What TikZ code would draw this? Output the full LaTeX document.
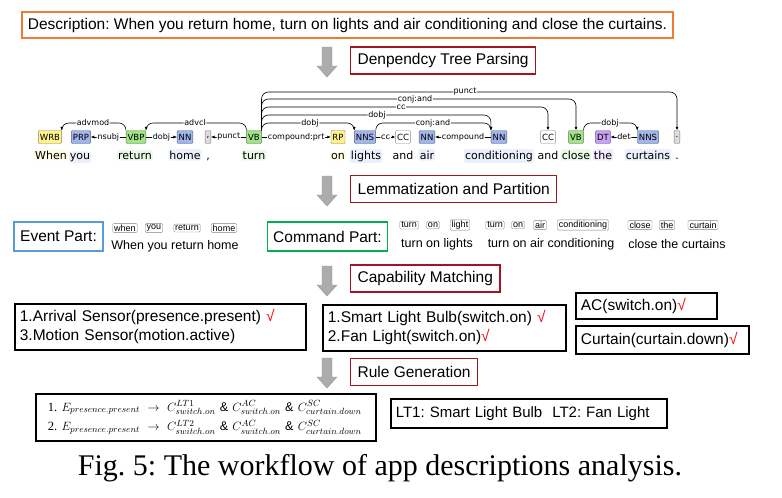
\documentclass[tikz,border=0pt]{standalone}
\usepackage{fontspec}
\setmainfont{Liberation Sans}
\newfontfamily\depfont{DejaVu Sans}
\newfontfamily\capfont{Liberation Serif}
\usetikzlibrary{arrows.meta}
\definecolor{descorange}{RGB}{237,125,49}
\definecolor{stagered}{RGB}{165,20,30}
\definecolor{eventblue}{RGB}{91,155,213}
\definecolor{cmdgreen}{RGB}{0,176,80}
\definecolor{tagyellow}{RGB}{255,242,140}
\definecolor{tagblue}{RGB}{160,182,235}
\definecolor{taggreen}{RGB}{160,228,135}
\definecolor{tagpurple}{RGB}{200,160,245}
\definecolor{taggrey}{RGB}{220,220,220}
\frenchspacing

\begin{document}
\begin{tikzpicture}[x=1pt, y=-1pt,
  mainfont/.style={font=\fontsize{15.5}{19}\selectfont},
  descbox/.style={draw=descorange, line width=1.4pt, inner xsep=6pt, minimum height=26pt, mainfont},
  stagebox/.style={draw=stagered, line width=1.3pt, inner xsep=7pt, minimum height=27pt, anchor=west, mainfont},
  partbox/.style={line width=1.4pt, inner xsep=6pt, minimum height=29pt, mainfont},
  resbox/.style={draw, line width=1.7pt, inner xsep=5pt, anchor=north west, align=left, mainfont},
  postag/.style={draw=#1!55!black, fill=#1, rounded corners=1pt, inner xsep=1.5pt, inner ysep=1pt, minimum height=13pt, font=\depfont\fontsize{8.5}{9}\selectfont},
  token/.style={fill=#1!22, rounded corners=2pt, inner xsep=1pt, inner ysep=1.5pt, anchor=base, font=\depfont\fontsize{11}{13}\selectfont},
  deparc/.style={-{Latex[length=3.5pt,width=3pt]}, line width=0.6pt, rounded corners=7pt},
  arclab/.style={fill=white, inner sep=0.8pt, font=\depfont\fontsize{8}{9}\selectfont},
  ltag/.style={draw=gray, rounded corners=1pt, inner xsep=1.5pt, inner ysep=1pt, font=\fontsize{9}{10}\selectfont},
  lword/.style={inner sep=0pt, font=\fontsize{12.5}{14}\selectfont},
  downarrow/.style={fill=gray!65, draw=gray!80}]
\useasboundingbox (0,0) rectangle (782,498);

\foreach \y in {47,176,266,358}
  \filldraw[downarrow] (322,\y) -- (332,\y) -- (332,\y+19) -- (337,\y+19) -- (327,\y+30) -- (317,\y+19) -- (322,\y+19) -- cycle;

\node[descbox] (desc) at (347.5,25) {Description: When you return home, turn on lights and air conditioning and close the curtains.};
\node[stagebox] (parse) at (350,60.5) {Denpendcy Tree Parsing};
\node[stagebox] (lemma) at (350,189) {Lemmatization and Partition};
\node[stagebox] (match) at (350,278.5) {Capability Matching};
\node[stagebox] (rule) at (350,372) {Rule Generation};

\node[postag=tagyellow] (wrb) at (50,137) {WRB};
\node[postag=tagblue] (prp) at (81,137) {PRP};
\node[postag=taggreen] (vbp) at (136,137) {VBP};
\node[postag=tagblue] (nn1) at (185,137) {NN};
\node[postag=taggrey] (comma) at (208,137) {,};
\node[postag=taggreen] (vb1) at (254,137) {VB};
\node[postag=tagyellow] (rp) at (338,137) {RP};
\node[postag=tagblue] (nns1) at (365,137) {NNS};
\node[postag=white] (cc1) at (403,137) {CC};
\node[postag=tagblue] (nn2) at (427,137) {NN};
\node[postag=tagblue] (nn3) at (499,137) {NN};
\node[postag=white] (cc2) at (548,137) {CC};
\node[postag=taggreen] (vb2) at (576,137) {VB};
\node[postag=tagpurple] (dt) at (603,137) {DT};
\node[postag=tagblue] (nns2) at (648,137) {NNS};
\node[postag=taggrey] (dot) at (677,137) {.};

\node[token=tagyellow] (w1) at (51,159) {When};
\node[token=tagblue] (w2) at (80,159) {you};
\node[token=taggreen] (w3) at (135,159) {return};
\node[token=tagblue] (w4) at (185,159) {home};
\node[token=white] (w5) at (208,159) {,};
\node[token=taggreen] (w6) at (254,159) {turn};
\node[token=tagyellow] (w7) at (338,159) {on};
\node[token=tagblue] (w8) at (366,159) {lights};
\node[token=white] (w9) at (403,159) {and};
\node[token=tagblue] (w10) at (427,159) {air};
\node[token=tagblue] (w11) at (499,159) {conditioning};
\node[token=white] (w12) at (548,159) {and};
\node[token=taggreen] (w13) at (576,159) {close};
\node[token=tagpurple] (w14) at (603,159) {the};
\node[token=tagblue] (w15) at (648,159) {curtains};
\node[token=white] (w16) at (677,159) {.};

\draw[deparc] (vbp.west) -- node[arclab] {nsubj} (prp.east);
\draw[deparc] (vbp.east) -- node[arclab] {dobj} (nn1.west);
\draw[deparc] (vb1.west) -- node[arclab] {punct} (comma.east);
\draw[deparc] (vb1.east) -- node[arclab] {compound:prt} (rp.west);
\draw[deparc] (nns1.east) -- node[arclab] {cc} (cc1.west);
\draw[deparc] (nn3.west) -- node[arclab] {compound} (nn2.east);
\draw[deparc] (nns2.west) -- node[arclab] {det} (dt.east);
\draw[deparc] (vbp.north west) |- (93,123) node[arclab] {advmod} -| (wrb.north east);
\draw[deparc] (vb1.north west) |- (195,123) node[arclab] {advcl} -| (vbp.north east);
\draw[deparc] (vb1.north east) |- (310,123) node[arclab] {dobj} -| (nns1.north west);
\draw[deparc] (nns1.north east) |- (433,123) node[arclab] {conj:and} -| (nn3.north west);
\draw[deparc] (vb2.north east) |- (610,123) node[arclab] {dobj} -| (nns2.north west);
\draw[deparc] (vb1.north east) |- (377,115) node[arclab] {dobj} -| (nn3.north west);
\draw[deparc] (vb1.north east) |- (401,107) node[arclab] {cc} -| (cc2.north);
\draw[deparc] (vb1.north east) |- (415,99) node[arclab] {conj:and} -| (vb2.north);
\draw[deparc] (vb1.north east) |- (465,92) node[arclab] {punct} -| (dot.north);

\node[partbox, draw=eventblue] (event) at (58.5,236.5) {Event Part:};
\node[partbox, draw=cmdgreen] (command) at (327.5,236.5) {Command Part:};
\node[ltag] (lwhen) at (125,228) {when};
\node[ltag] (lyou) at (154,228) {you};
\node[ltag] (lreturn) at (187,228) {return};
\node[ltag] (lhome) at (224,228) {home};
\node[lword] (eventwords) at (175,246) {When you return home};
\node[ltag] (lturn1) at (409,225) {turn};
\node[ltag] (lon1) at (433,225) {on};
\node[ltag] (llight) at (460,225) {light};
\node[ltag] (lturn2) at (495,225) {turn};
\node[ltag] (lon2) at (518,225) {on};
\node[ltag] (lair) at (540,225) {air};
\node[ltag] (lcond) at (583,225) {conditioning};
\node[ltag] (lclose) at (640,225) {close};
\node[ltag] (lthe) at (667,225) {the};
\node[ltag] (lcurtain) at (703,225) {curtain};
\node[lword] (cmdwords1) at (437,244) {turn on lights};
\node[lword] (cmdwords2) at (551,244) {turn on air conditioning};
\node[lword] (cmdwords3) at (677,244) {close the curtains};

\node[resbox, text width=281pt, minimum height=46pt] (arrival) at (14,303) {1.Arrival Sensor(presence.present) \textcolor{red}{√}\\3.Motion Sensor(motion.active)};
\node[resbox, text width=233pt, minimum height=46pt] (smart) at (322,304) {1.Smart Light Bulb(switch.on) \textcolor{red}{√}\\2.Fan Light(switch.on)\textcolor{red}{√}};
\node[resbox, text width=131pt, minimum height=26pt] (ac) at (575,292) {AC(switch.on)\textcolor{red}{√}};
\node[resbox, text width=163pt, minimum height=28pt] (curtain) at (575,325) {Curtain(curtain.down)\textcolor{red}{√}};

\node[resbox, inner xsep=12pt, text width=316pt, minimum height=47pt, font=\capfont\fontsize{12.6}{19.5}\selectfont] (rules) at (35,393) {1. $E_{presence.present}\ \rightarrow\ C^{LT1}_{switch.on}\ \&\ C^{AC}_{switch.on}\ \&\ C^{SC}_{curtain.down}$\\2. $E_{presence.present}\ \rightarrow\ C^{LT2}_{switch.on}\ \&\ C^{AC}_{switch.on}\ \&\ C^{SC}_{curtain.down}$};
\node[resbox, text width=266pt, minimum height=29pt, font=\fontsize{15}{18}\selectfont] (lt) at (390,398) {LT1: Smart Light Bulb\ \ LT2: Fan Light};

\node[font=\capfont\fontsize{30}{34}\selectfont] (caption) at (380,468) {Fig. 5: The workflow of app descriptions analysis.};
\end{tikzpicture}
\end{document}
